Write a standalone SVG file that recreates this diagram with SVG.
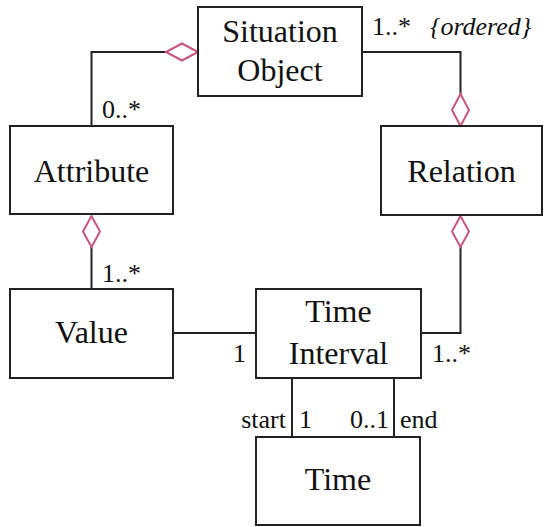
<svg xmlns="http://www.w3.org/2000/svg" width="550" height="527" viewBox="0 0 550 527">
<style>
.box{fill:#fff;stroke:#222;stroke-width:2}
.cls{font-size:32px;fill:#111;text-anchor:middle}
.lbl{font-size:26px;fill:#111}
.ln{fill:none;stroke:#222;stroke-width:2}
.dia{fill:#fff;stroke:#c8557f;stroke-width:2}
</style>
<rect width="550" height="527" fill="#fff"/>
<g id="connectors" font-family="Liberation Serif, Times New Roman, serif">
<polyline class="ln" points="166,52 91.5,52 91.5,126"/>
<polyline class="ln" points="362,52 460.5,52 460.5,94"/>
<line class="ln" x1="91.5" y1="247" x2="91.5" y2="289"/>
<polyline class="ln" points="460.5,247 460.5,333 421,333"/>
<line class="ln" x1="173" y1="333" x2="256" y2="333"/>
<line class="ln" x1="292" y1="378" x2="292" y2="437"/>
<line class="ln" x1="394" y1="378" x2="394" y2="437"/>
<polygon class="dia" points="198,52 182,43.5 166,52 182,60.5"/>
<polygon class="dia" points="460.5,126 452,110 460.5,94 469,110"/>
<polygon class="dia" points="91.5,216 83,231.5 91.5,247 100,231.5"/>
<polygon class="dia" points="460.5,216 452,231.5 460.5,247 469,231.5"/>
<text class="lbl" font-family="Liberation Serif" x="102" y="118">0..*</text>
<text class="lbl" font-family="Liberation Serif" x="372" y="35">1..*</text>
<text class="lbl" font-family="Liberation Serif" font-style="italic" x="430" y="35">{ordered}</text>
<text class="lbl" font-family="Liberation Serif" x="102" y="282">1..*</text>
<text class="lbl" font-family="Liberation Serif" x="233" y="362">1</text>
<text class="lbl" font-family="Liberation Serif" x="432" y="362">1..*</text>
<text class="lbl" font-family="Liberation Serif" x="286" y="428" text-anchor="end">start</text>
<text class="lbl" font-family="Liberation Serif" x="299" y="428">1</text>
<text class="lbl" font-family="Liberation Serif" x="389" y="428" text-anchor="end">0..1</text>
<text class="lbl" font-family="Liberation Serif" x="400" y="428">end</text>
</g>
<g id="situation-object" font-family="Liberation Serif">
<rect class="box" x="198" y="7" width="164" height="89"/>
<text class="cls" x="280" y="42">Situation</text>
<text class="cls" x="280" y="81">Object</text>
</g>
<g id="attribute" font-family="Liberation Serif">
<rect class="box" x="10" y="126" width="163" height="88"/>
<text class="cls" x="91.5" y="182">Attribute</text>
</g>
<g id="relation" font-family="Liberation Serif">
<rect class="box" x="381" y="126" width="161" height="89"/>
<text class="cls" x="461.5" y="182">Relation</text>
</g>
<g id="value" font-family="Liberation Serif">
<rect class="box" x="10" y="289" width="163" height="89"/>
<text class="cls" x="91.5" y="343">Value</text>
</g>
<g id="time-interval" font-family="Liberation Serif">
<rect class="box" x="256" y="289" width="165" height="89"/>
<text class="cls" x="338.5" y="322">Time</text>
<text class="cls" x="338.5" y="364">Interval</text>
</g>
<g id="time" font-family="Liberation Serif">
<rect class="box" x="256" y="437" width="164" height="88"/>
<text class="cls" x="338" y="490">Time</text>
</g>
</svg>
